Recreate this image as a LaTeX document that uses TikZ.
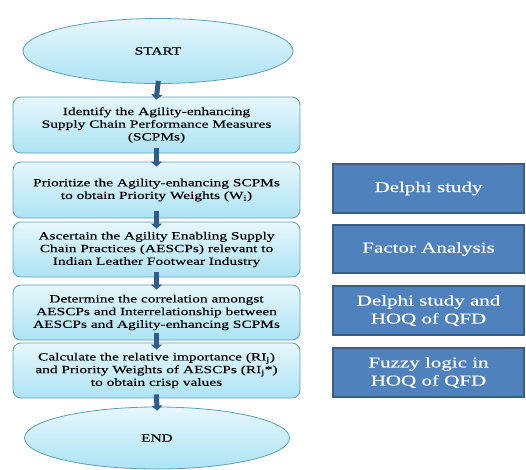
\documentclass[tikz,border=0pt]{standalone}
\usepackage{fontspec}
\usetikzlibrary{arrows.meta,shapes.geometric}
\setmainfont{Liberation Serif}[FakeStretch=1.4,FakeBold=0.2]

\definecolor{paleblue}{HTML}{E6F7FC}
\definecolor{midcyan}{HTML}{ADE3F4}
\definecolor{edgeteal}{HTML}{5F9FB6}
\definecolor{toolblue}{HTML}{4F81BD}
\definecolor{tooledge}{HTML}{385D8A}
\definecolor{arrowblue}{HTML}{2F5C8E}

\begin{document}
\begin{tikzpicture}[x=1pt,y=-1pt,
    terminal/.style={ellipse,draw=edgeteal,line width=0.8pt,top color=paleblue,bottom color=midcyan,
        minimum width=#1,font=\rmfamily\fontsize{11}{12.7}\selectfont},
    stepbox/.style={rectangle,rounded corners=8pt,draw=edgeteal,line width=0.8pt,top color=paleblue,bottom color=midcyan,
        minimum width=287pt,align=center,inner sep=2pt,font=\rmfamily\fontsize{11}{12.7}\selectfont},
    toolbox/.style={rectangle,draw=tooledge,line width=1.2pt,fill=toolblue,text=white,
        minimum width=191pt,minimum height=49pt,align=center,font=\rmfamily\fontsize{15}{18}\selectfont},
    flow/.style={draw=arrowblue,line width=5pt,-{Triangle[width=11pt,length=5pt]},shorten <=-#1,shorten >=-#1}]
            \useasboundingbox (0,0) rectangle (526,469);

            \node (start) at (158,51) [terminal=270pt,minimum height=65pt] {START};
            \node (s1) at (156.5,125) [stepbox,minimum height=56pt] {Identify the Agility-enhancing\\Supply Chain Performance Measures\\(SCPMs)};
            \node (s2) at (156.5,190) [stepbox,minimum height=56pt] {Prioritize the Agility-enhancing SCPMs\\to obtain Priority Weights (W\textsubscript{i})};
            \node (s3) at (156.5,249.5) [stepbox,minimum height=55pt] {Ascertain the Agility Enabling Supply\\Chain Practices (AESCPs) relevant to\\Indian Leather Footwear Industry};
            \node (s4) at (156.5,312.5) [stepbox,minimum height=55pt] {Determine the correlation amongst\\AESCPs and Interrelationship between\\AESCPs and Agility-enhancing SCPMs};
            \node (s5) at (156.5,370.5) [stepbox,minimum height=55pt] {Calculate the relative importance (RI\textsubscript{j})\\and Priority Weights of AESCPs (RI\textsubscript{j}*)\\to obtain crisp values};
            \node (finish) at (157,438) [terminal=265pt,minimum height=62pt] {END};

            \node (t2) at (428.5,188.5) [toolbox] {Delphi study};
            \node (t3) at (428.5,249) [toolbox,minimum height=48pt] {Factor Analysis};
            \node (t4) at (428.5,310.5) [toolbox] {Delphi study and\\HOQ of QFD};
            \node (t5) at (428.5,372.5) [toolbox] {Fuzzy logic in\\HOQ of QFD};

            \draw[flow=3pt] (start.south) -- (s1.north);
            \draw[flow=5pt] (s1.south) -- (s2.north);
            \draw[flow=7pt] (s2.south) -- (s3.north);
            \draw[flow=5pt] (s3.south) -- (s4.north);
            \draw[flow=7pt] (s4.south) -- (s5.north);
            \draw[flow=4pt] (s5.south) -- (finish.north);

        \end{tikzpicture}
\end{document}
